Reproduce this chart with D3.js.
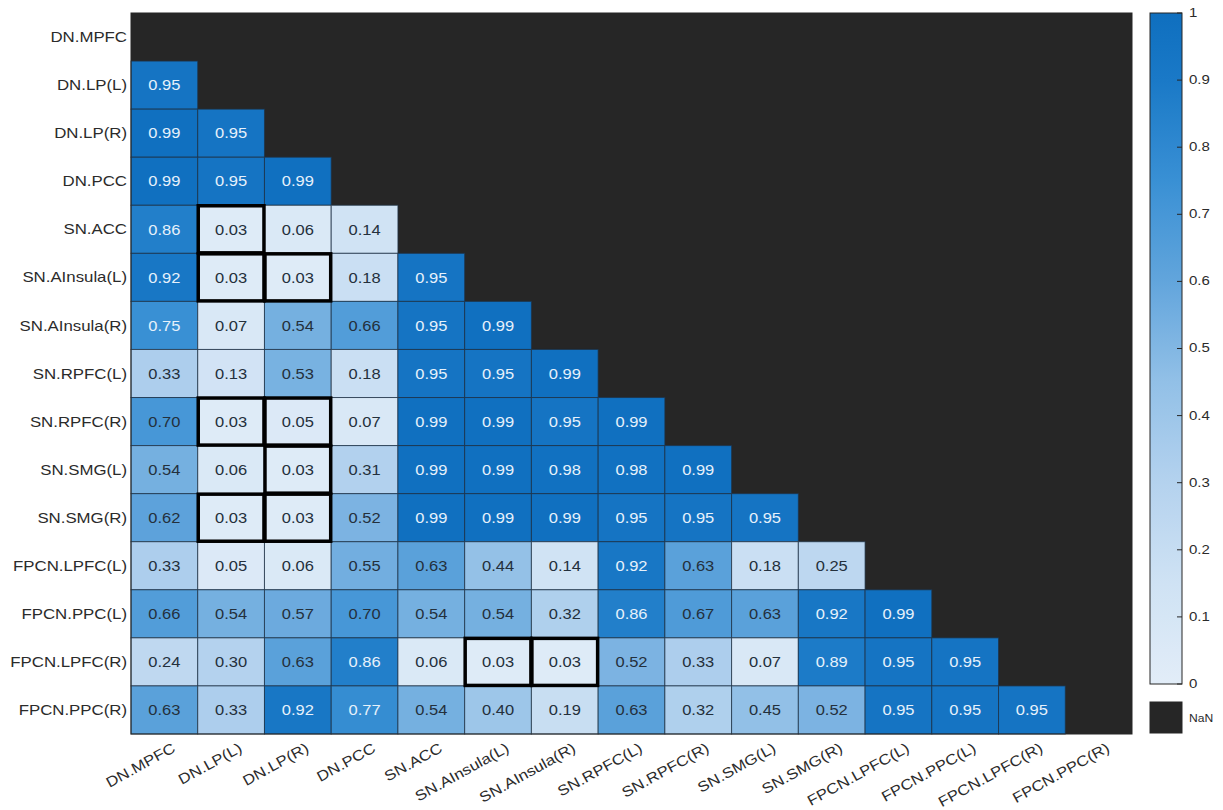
<!DOCTYPE html>
<html>
<head>
<meta charset="utf-8">
<script src="https://cdn.jsdelivr.net/npm/d3@7"></script>
<style>
  html, body { margin: 0; padding: 0; background: #ffffff; }
  svg { display: block; font-family: "Liberation Sans", Arial, Helvetica, sans-serif; }
</style>
</head>
<body>
<svg id="chart" width="1223" height="810"></svg>
<script>
// ---- data ----
const labels = ["DN.MPFC","DN.LP(L)","DN.LP(R)","DN.PCC","SN.ACC","SN.AInsula(L)","SN.AInsula(R)",
  "SN.RPFC(L)","SN.RPFC(R)","SN.SMG(L)","SN.SMG(R)","FPCN.LPFC(L)","FPCN.PPC(L)","FPCN.LPFC(R)","FPCN.PPC(R)"];
// lower-triangle rows (row i has values for columns 0..i-1)
const rowDN_MPFC = [];
const rowDN_LPL = [0.95];
const rowDN_LPR = [0.99, 0.95];
const rowDN_PCC = [0.99, 0.95, 0.99];
const rowSN_ACC = [0.86, 0.03, 0.06, 0.14];
const rowSN_AInsL = [0.92, 0.03, 0.03, 0.18, 0.95];
const rowSN_AInsR = [0.75, 0.07, 0.54, 0.66, 0.95, 0.99];
const rowSN_RPFCL = [0.33, 0.13, 0.53, 0.18, 0.95, 0.95, 0.99];
const rowSN_RPFCR = [0.70, 0.03, 0.05, 0.07, 0.99, 0.99, 0.95, 0.99];
const rowSN_SMGL = [0.54, 0.06, 0.03, 0.31, 0.99, 0.99, 0.98, 0.98, 0.99];
const rowSN_SMGR = [0.62, 0.03, 0.03, 0.52, 0.99, 0.99, 0.99, 0.95, 0.95, 0.95];
const rowFPCN_LPFCL = [0.33, 0.05, 0.06, 0.55, 0.63, 0.44, 0.14, 0.92, 0.63, 0.18, 0.25];
const rowFPCN_PPCL = [0.66, 0.54, 0.57, 0.70, 0.54, 0.54, 0.32, 0.86, 0.67, 0.63, 0.92, 0.99];
const rowFPCN_LPFCR = [0.24, 0.30, 0.63, 0.86, 0.06, 0.03, 0.03, 0.52, 0.33, 0.07, 0.89, 0.95, 0.95];
const rowFPCN_PPCR = [0.63, 0.33, 0.92, 0.77, 0.54, 0.40, 0.19, 0.63, 0.32, 0.45, 0.52, 0.95, 0.95, 0.95];
const rows = [rowDN_MPFC, rowDN_LPL, rowDN_LPR, rowDN_PCC, rowSN_ACC, rowSN_AInsL, rowSN_AInsR,
  rowSN_RPFCL, rowSN_RPFCR, rowSN_SMGL, rowSN_SMGR, rowFPCN_LPFCL, rowFPCN_PPCL, rowFPCN_LPFCR, rowFPCN_PPCR];
// highlighted cells [row label, column label]
const highlighted = [
  ["SN.ACC","DN.LP(L)"], ["SN.AInsula(L)","DN.LP(L)"], ["SN.AInsula(L)","DN.LP(R)"],
  ["SN.RPFC(R)","DN.LP(L)"], ["SN.RPFC(R)","DN.LP(R)"], ["SN.SMG(L)","DN.LP(R)"],
  ["SN.SMG(R)","DN.LP(L)"], ["SN.SMG(R)","DN.LP(R)"],
  ["FPCN.LPFC(R)","SN.AInsula(L)"], ["FPCN.LPFC(R)","SN.AInsula(R)"]
];
const colorbarTicks = [0, 0.1, 0.2, 0.3, 0.4, 0.5, 0.6, 0.7, 0.8, 0.9, 1];

// ---- layout ----
const svg = d3.select("#chart");
const plot = {left: 131, top: 13, right: 1132, bottom: 734};
const x = d3.scaleBand().domain(labels).range([plot.left, plot.right]);
const y = d3.scaleBand().domain(labels).range([plot.top, plot.bottom]);
const color = d3.scaleLinear()
  .domain([0, 0.15, 0.3, 0.45, 0.6, 0.75, 0.9, 1])
  .range(["#e2edf8", "#cfe2f4", "#b4d2ee", "#92c0e7", "#62a5dc", "#3990d4", "#1a79c7", "#0f6fbf"])
  .interpolate(d3.interpolateRgb);
const nanColor = "#262626";
const textColor = "#2b2b2b";
const sx = 1.16; // horizontal stretch of the reference lettering

// NaN background
svg.append("rect").attr("x", plot.left).attr("y", plot.top)
  .attr("width", plot.right - plot.left).attr("height", plot.bottom - plot.top)
  .attr("fill", nanColor);

const cells = [];
rows.forEach((r, i) => r.forEach((v, j) => cells.push({row: labels[i], col: labels[j], v})));

const g = svg.append("g");
g.selectAll("rect.cell").data(cells).enter().append("rect")
  .attr("class", "cell")
  .attr("x", d => x(d.col)).attr("y", d => y(d.row))
  .attr("width", x.bandwidth()).attr("height", y.bandwidth())
  .attr("fill", d => color(d.v))
  .attr("stroke", "#1f3347").attr("stroke-opacity", 0.75).attr("stroke-width", 1);

g.selectAll("text.val").data(cells).enter().append("text")
  .attr("class", "val")
  .attr("transform", d => `translate(${x(d.col) + x.bandwidth() / 2},${y(d.row) + y.bandwidth() / 2}) scale(1.1,1)`)
  .attr("text-anchor", "middle").attr("dominant-baseline", "central")
  .attr("font-size", 15)
  .attr("fill", d => d.v >= 0.72 ? "#e6f1fb" : "#24303c")
  .text(d => d3.format(".2f")(d.v));

// highlight boxes
svg.append("g").selectAll("rect").data(highlighted).enter().append("rect")
  .attr("x", d => x(d[1]) + 0.5).attr("y", d => y(d[0]) + 0.5)
  .attr("width", x.bandwidth() - 1).attr("height", y.bandwidth() - 1)
  .attr("fill", "none").attr("stroke", "#000").attr("stroke-width", 3.5);

// axis border
svg.append("rect").attr("x", plot.left).attr("y", plot.top)
  .attr("width", plot.right - plot.left).attr("height", plot.bottom - plot.top)
  .attr("fill", "none").attr("stroke", "#262626").attr("stroke-width", 1);

// y labels
svg.append("g").selectAll("text").data(labels).enter().append("text")
  .attr("transform", d => `translate(${plot.left - 4},${y(d) + y.bandwidth() / 2}) scale(${sx},1)`)
  .attr("text-anchor", "end").attr("dominant-baseline", "central")
  .attr("font-size", 14.5).attr("fill", textColor)
  .text(d => d);

// x labels
svg.append("g").selectAll("text").data(labels).enter().append("text")
  .attr("transform", d => `translate(${x(d) + x.bandwidth() / 2 + 7},${plot.bottom + 8}) rotate(-29) scale(${sx},1)`)
  .attr("text-anchor", "end").attr("dy", "0.71em")
  .attr("font-size", 14.5).attr("fill", textColor)
  .text(d => d);

// colorbar
const cb = {x: 1150, w: 32, top: 13, bottom: 684};
const cy = d3.scaleLinear().domain([0, 1]).range([cb.bottom, cb.top]);
const defs = svg.append("defs");
const grad = defs.append("linearGradient").attr("id", "cbgrad")
  .attr("x1", 0).attr("y1", 1).attr("x2", 0).attr("y2", 0);
d3.range(0, 1.0001, 0.05).forEach(t => grad.append("stop")
  .attr("offset", t).attr("stop-color", color(t)));
svg.append("rect").attr("x", cb.x).attr("y", cb.top).attr("width", cb.w)
  .attr("height", cb.bottom - cb.top).attr("fill", "url(#cbgrad)")
  .attr("stroke", "#262626").attr("stroke-width", 1);
const cbAxis = svg.append("g");
cbAxis.selectAll("line").data(colorbarTicks).enter().append("line")
  .attr("x1", cb.x + cb.w - 5).attr("x2", cb.x + cb.w)
  .attr("y1", d => cy(d)).attr("y2", d => cy(d))
  .attr("stroke", "#262626").attr("stroke-width", 1);
cbAxis.selectAll("text").data(colorbarTicks).enter().append("text")
  .attr("transform", d => `translate(${cb.x + cb.w + 7},${cy(d)}) scale(1.25,1)`)
  .attr("dominant-baseline", "central").attr("font-size", 12).attr("fill", textColor)
  .text(d => d3.format("")(d));
// NaN swatch
svg.append("rect").attr("x", cb.x).attr("y", 702).attr("width", cb.w).attr("height", 31)
  .attr("fill", nanColor).attr("stroke", "#262626");
svg.append("text").attr("transform", `translate(${cb.x + cb.w + 7},718) scale(1.1,1)`)
  .attr("dominant-baseline", "central").attr("font-size", 11).attr("fill", textColor)
  .text("NaN");
</script>
</body>
</html>
